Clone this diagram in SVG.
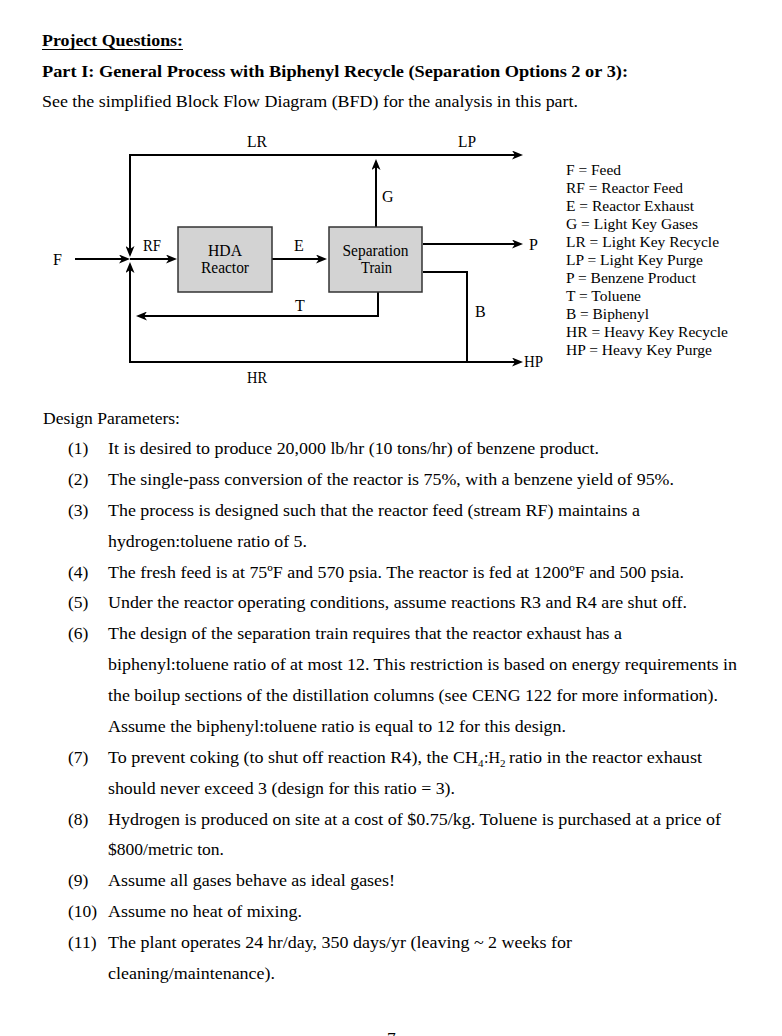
<svg xmlns="http://www.w3.org/2000/svg" width="782" height="1036" viewBox="0 0 782 1036">
<style>
text{font-family:"Liberation Serif","Times New Roman",serif;fill:#000}
.h{font-size:17.5px;font-weight:bold}
.b{font-size:17.5px}
.lab{font-size:16px}
.leg{font-size:15.5px}
.sub{font-size:11px}
.ln{fill:none;stroke:#000;stroke-width:2}
.box{fill:#d3d3d3;stroke:#333;stroke-width:1.5}
</style>
<defs>
<marker id="ah" markerUnits="userSpaceOnUse" viewBox="0 0 11 9" markerWidth="11" markerHeight="9" refX="3" refY="4.5" orient="auto">
<path d="M0,0 L11,4.5 L0,9 L3,4.5 z" fill="#000"/>
</marker>
</defs>
<rect width="782" height="1036" fill="#fff"/>

<g id="header">
<text class="h" x="42" y="46" textLength="141" lengthAdjust="spacingAndGlyphs">Project Questions:</text>
<line x1="42" y1="49.5" x2="183" y2="49.5" stroke="#000" stroke-width="1.2"/>
<text class="h" x="42" y="77" textLength="586" lengthAdjust="spacingAndGlyphs">Part I: General Process with Biphenyl Recycle (Separation Options 2 or 3):</text>
<text class="b" x="42" y="107" textLength="536" lengthAdjust="spacingAndGlyphs">See the simplified Block Flow Diagram (BFD) for the analysis in this part.</text>
</g>

<g id="connectors">
<path class="ln" d="M130,155 H515" marker-end="url(#ah)"/>
<path class="ln" d="M376,155 H130 V249" marker-end="url(#ah)"/>
<path class="ln" d="M376,227 V167" marker-end="url(#ah)"/>
<path class="ln" d="M75,259 H122" marker-end="url(#ah)"/>
<path class="ln" d="M130,259 H169" marker-end="url(#ah)"/>
<path class="ln" d="M272,259 H319" marker-end="url(#ah)"/>
<path class="ln" d="M423,244 H515" marker-end="url(#ah)"/>
<path class="ln" d="M423,272 H467 V362"/>
<path class="ln" d="M130,362 H515" marker-end="url(#ah)"/>
<path class="ln" d="M467,362 H130 V270" marker-end="url(#ah)"/>
<path class="ln" d="M378,292 V316 H144" marker-end="url(#ah)"/>
</g>

<g id="stream-labels">
<text class="lab" x="247" y="147" textLength="20" lengthAdjust="spacingAndGlyphs">LR</text>
<text class="lab" x="458" y="147" textLength="18" lengthAdjust="spacingAndGlyphs">LP</text>
<text class="lab" x="382" y="202">G</text>
<text class="lab" x="143" y="251" textLength="18" lengthAdjust="spacingAndGlyphs">RF</text>
<text class="lab" x="294" y="251">E</text>
<text class="lab" x="53" y="265">F</text>
<text class="lab" x="529" y="250">P</text>
<text class="lab" x="295" y="311">T</text>
<text class="lab" x="475" y="317">B</text>
<text class="lab" x="524" y="367" textLength="19" lengthAdjust="spacingAndGlyphs">HP</text>
<text class="lab" x="247" y="383" textLength="20" lengthAdjust="spacingAndGlyphs">HR</text>
</g>

<g id="hda-reactor">
<rect class="box" x="178" y="227" width="94" height="65"/>
<text class="lab" x="225" y="256" text-anchor="middle" textLength="34" lengthAdjust="spacingAndGlyphs">HDA</text>
<text class="lab" x="225" y="273" text-anchor="middle" textLength="48" lengthAdjust="spacingAndGlyphs">Reactor</text>
</g>

<g id="separation-train">
<rect class="box" x="329" y="227" width="93" height="65"/>
<text class="lab" x="375.5" y="256" text-anchor="middle" textLength="66" lengthAdjust="spacingAndGlyphs">Separation</text>
<text class="lab" x="376.5" y="273" text-anchor="middle" textLength="31" lengthAdjust="spacingAndGlyphs">Train</text>
</g>

<g id="legend">
<text class="leg" x="566" y="175" textLength="55" lengthAdjust="spacingAndGlyphs">F = Feed</text>
<text class="leg" x="566" y="193" textLength="117" lengthAdjust="spacingAndGlyphs">RF = Reactor Feed</text>
<text class="leg" x="566" y="211" textLength="128" lengthAdjust="spacingAndGlyphs">E = Reactor Exhaust</text>
<text class="leg" x="566" y="229" textLength="132" lengthAdjust="spacingAndGlyphs">G = Light Key Gases</text>
<text class="leg" x="566" y="247" textLength="153" lengthAdjust="spacingAndGlyphs">LR = Light Key Recycle</text>
<text class="leg" x="566" y="265" textLength="137" lengthAdjust="spacingAndGlyphs">LP = Light Key Purge</text>
<text class="leg" x="566" y="283" textLength="130" lengthAdjust="spacingAndGlyphs">P = Benzene Product</text>
<text class="leg" x="566" y="301" textLength="75" lengthAdjust="spacingAndGlyphs">T = Toluene</text>
<text class="leg" x="566" y="319" textLength="83" lengthAdjust="spacingAndGlyphs">B = Biphenyl</text>
<text class="leg" x="566" y="337" textLength="162" lengthAdjust="spacingAndGlyphs">HR = Heavy Key Recycle</text>
<text class="leg" x="566" y="355" textLength="146" lengthAdjust="spacingAndGlyphs">HP = Heavy Key Purge</text>
</g>

<g id="design-parameters">
<text class="b" x="43" y="424" textLength="137" lengthAdjust="spacingAndGlyphs">Design Parameters:</text>
<text class="b" x="68" y="454">(1)</text>
<text class="b" x="108" y="454" textLength="491" lengthAdjust="spacingAndGlyphs">It is desired to produce 20,000 lb/hr (10 tons/hr) of benzene product.</text>
<text class="b" x="68" y="485">(2)</text>
<text class="b" x="108" y="485" textLength="566" lengthAdjust="spacingAndGlyphs">The single-pass conversion of the reactor is 75%, with a benzene yield of 95%.</text>
<text class="b" x="68" y="516">(3)</text>
<text class="b" x="108" y="516" textLength="532" lengthAdjust="spacingAndGlyphs">The process is designed such that the reactor feed (stream RF) maintains a</text>
<text class="b" x="108" y="547" textLength="199" lengthAdjust="spacingAndGlyphs">hydrogen:toluene ratio of 5.</text>
<text class="b" x="68" y="578">(4)</text>
<text class="b" x="108" y="578" textLength="576" lengthAdjust="spacingAndGlyphs">The fresh feed is at 75ºF and 570 psia. The reactor is fed at 1200ºF and 500 psia.</text>
<text class="b" x="68" y="608">(5)</text>
<text class="b" x="108" y="608" textLength="579" lengthAdjust="spacingAndGlyphs">Under the reactor operating conditions, assume reactions R3 and R4 are shut off.</text>
<text class="b" x="68" y="639">(6)</text>
<text class="b" x="108" y="639" textLength="514" lengthAdjust="spacingAndGlyphs">The design of the separation train requires that the reactor exhaust has a</text>
<text class="b" x="108" y="670" textLength="629" lengthAdjust="spacingAndGlyphs">biphenyl:toluene ratio of at most 12. This restriction is based on energy requirements in</text>
<text class="b" x="108" y="701" textLength="610" lengthAdjust="spacingAndGlyphs">the boilup sections of the distillation columns (see CENG 122 for more information).</text>
<text class="b" x="108" y="732" textLength="458" lengthAdjust="spacingAndGlyphs">Assume the biphenyl:toluene ratio is equal to 12 for this design.</text>
<text class="b" x="68" y="763">(7)</text>
<text class="b" x="108" y="763" textLength="370" lengthAdjust="spacingAndGlyphs">To prevent coking (to shut off reaction R4), the CH</text>
<text class="sub" x="478" y="767">4</text>
<text class="b" x="484" y="763" textLength="16" lengthAdjust="spacingAndGlyphs">:H</text>
<text class="sub" x="500" y="767">2</text>
<text class="b" x="509" y="763" textLength="193" lengthAdjust="spacingAndGlyphs">ratio in the reactor exhaust</text>
<text class="b" x="108" y="794" textLength="347" lengthAdjust="spacingAndGlyphs">should never exceed 3 (design for this ratio = 3).</text>
<text class="b" x="68" y="825">(8)</text>
<text class="b" x="108" y="825" textLength="613" lengthAdjust="spacingAndGlyphs">Hydrogen is produced on site at a cost of $0.75/kg. Toluene is purchased at a price of</text>
<text class="b" x="108" y="855" textLength="116" lengthAdjust="spacingAndGlyphs">$800/metric ton.</text>
<text class="b" x="68" y="886">(9)</text>
<text class="b" x="108" y="886" textLength="287" lengthAdjust="spacingAndGlyphs">Assume all gases behave as ideal gases!</text>
<text class="b" x="68" y="917">(10)</text>
<text class="b" x="108" y="917" textLength="194" lengthAdjust="spacingAndGlyphs">Assume no heat of mixing.</text>
<text class="b" x="68" y="948">(11)</text>
<text class="b" x="108" y="948" textLength="464" lengthAdjust="spacingAndGlyphs">The plant operates 24 hr/day, 350 days/yr (leaving ~ 2 weeks for</text>
<text class="b" x="108" y="979" textLength="167" lengthAdjust="spacingAndGlyphs">cleaning/maintenance).</text>
</g>

<g id="page-number">
<text class="b" x="387" y="1044">7</text>
</g>
</svg>
